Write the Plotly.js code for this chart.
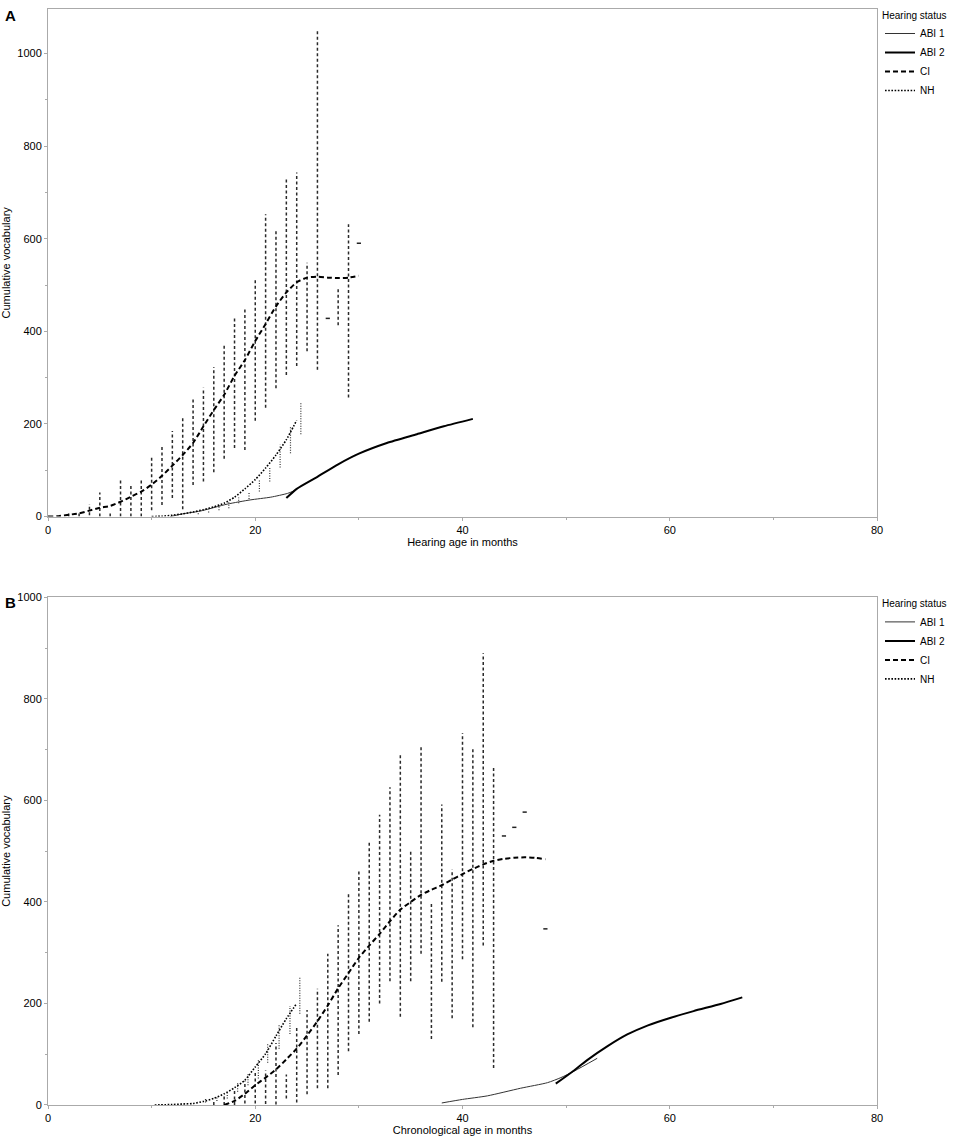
<!DOCTYPE html>
<html>
<head>
<meta charset="utf-8">
<script src="https://cdn.plot.ly/plotly-3.0.1.min.js"></script>
<style>
html,body{margin:0;padding:0;background:#fff;}
#chart{width:957px;height:1138px;}
</style>
</head>
<body>
<div id="chart"></div>
<script>
// ---------- Panel A: hearing age ----------
const aCiMonths = [2,3,4,5,6,7,8,9,10,11,12,13,14,15,16,17,18,19,20,21,22,23,24,25,26,28,29];
const aCiLow    = [0,0,3,0,0,0,0,0,14,25,40,16,68,76,96,125,148,144,207,235,277,306,325,357,317,413,257];
const aCiHigh   = [8,12,27,52,10,80,68,80,128,153,185,218,257,278,323,373,428,450,515,653,619,728,743,548,1048,495,631];
const aCiSingleMonths = [27,30];
const aCiSingleValues = [428,590];
const aCiMeanMonths = [0,1,2,3,4,5,6,7,8,9,10,11,12,13,14,15,16,17,18,19,20,21,22,23,24,25,26,27,28,29,30];
const aCiMean       = [0,1,4,7,13,19,23,32,43,54,69,88,110,133,159,195,230,263,304,338,379,416,454,484,506,516,518,516,515,516,520];
const aNhMonths = [14.5,15.5,16.5,17.45,18.4,19.4,20.4,21.4,22.4,23.4,24.4];
const aNhLow    = [5,9,14,18,29,38,54,76,106,137,178];
const aNhHigh   = [10,15,25,32,41,54,81,108,155,195,248];
const aNhMeanMonths = [10,11,12,13,14,15,16,17,18,19,20,21,22,23,24];
const aNhMean       = [0,1,3,6,10,15,21,29,42,60,80,105,133,166,208];
const aAbi1Months = [11.8,13,14.7,17.3,19.5,21.5,23.1,23.8];
const aAbi1       = [0,6,12,27,36,42,50,56];
const aAbi2Months = [23,24,26,28,30,32.7,35.6,38.2,41];
const aAbi2       = [40,60,86,113,136,159,178,195,211];

// ---------- Panel B: chronological age ----------
const bCiMonths = [16,17,18,19,20,21,22,23,24,25,26,27,28,29,30,31,32,33,34,35,36,37,38,39,40,41,42,43];
const bCiLow    = [0,0,0,3,3,2,1,13,5,21,33,33,59,106,140,164,200,244,174,244,298,130,243,171,287,153,314,73];
const bCiHigh   = [10,19,28,48,65,68,122,60,155,187,229,298,354,416,464,519,572,626,690,500,706,401,592,464,733,701,890,669];
const bCiSingleMonths = [44,45,46,48];
const bCiSingleValues = [530,547,577,347];
const bCiMeanMonths = [17,18,19,20,21,22,23,24,25,26,27,28,29,30,31,32,33,34,35,36,37,38,39,40,41,42,43,44,45,46,47,48];
const bCiMean       = [0,8,22,39,54,70,90,111,137,165,196,230,260,290,314,337,362,385,400,414,424,433,444,455,465,474,481,485,487,488,487,484];
const bNhMonths = [15.2,16.3,17.3,18.3,19.3,20.3,21.2,22.3,23.35,24.3];
const bNhLow    = [5,8,13,26,39,52,83,111,140,180];
const bNhHigh   = [12,16,26,46,62,88,120,160,195,252];
const bNhMeanMonths = [10.3,12,13,14,15,16,17,18,19,20,21,22,23,24];
const bNhMean       = [0,1,2,3,7,13,22,34,49,75,101,136,170,200];
const bAbi1Months = [38,40,42.4,45.6,48.2,49.5,50.8,53];
const bAbi1       = [4,11,18,33,44,54,67,92];
const bAbi2Months = [49,50.5,52,54,55.9,57.9,60.1,62.3,64.9,67];
const bAbi2       = [42,64,88,116,139,157,172,185,199,212];

const groupNames = ['ABI 1','ABI 2','CI','NH'];
const xTitles = ['Hearing age in months','Chronological age in months'];
const yTitle = 'Cumulative vocabulary';
const legendTitle = 'Hearing status';
const panelLabels = ['A','B'];

function rangeSegments(months, lo, hi){
  const x=[], y=[];
  months.forEach((m,i)=>{ x.push(m,m,null); y.push(lo[i],hi[i],null); });
  return {x, y};
}

function panelTraces(p, xa, ya, leg){
  const traces = [];
  const ci = rangeSegments(p.ciM, p.ciLo, p.ciHi);
  traces.push({type:'scatter', mode:'lines', x:ci.x, y:ci.y, xaxis:xa, yaxis:ya,
    line:{color:'#2a2a2a', width:1.5, dash:'3px,2.5px'}, showlegend:false, hoverinfo:'skip', legend:leg});
  traces.push({type:'scatter', mode:'markers', x:p.ciSM, y:p.ciSV, xaxis:xa, yaxis:ya,
    marker:{color:'#222', size:3, symbol:'line-ew', line:{color:'#222', width:1.5}}, showlegend:false, hoverinfo:'skip', legend:leg});
  const nh = rangeSegments(p.nhM, p.nhLo, p.nhHi);
  traces.push({type:'scatter', mode:'lines', x:nh.x, y:nh.y, xaxis:xa, yaxis:ya,
    line:{color:'#333', width:1.2, dash:'1px,1.5px'}, showlegend:false, hoverinfo:'skip', legend:leg});
  traces.push({type:'scatter', mode:'lines', name:groupNames[0], x:p.a1M, y:p.a1, xaxis:xa, yaxis:ya,
    line:{color:'#333', width:1, shape:'spline', smoothing:0.6}, legend:leg});
  traces.push({type:'scatter', mode:'lines', name:groupNames[1], x:p.a2M, y:p.a2, xaxis:xa, yaxis:ya,
    line:{color:'#000', width:2, shape:'spline', smoothing:0.6}, legend:leg});
  traces.push({type:'scatter', mode:'lines', name:groupNames[2], x:p.ciMeanM, y:p.ciMean, xaxis:xa, yaxis:ya,
    line:{color:'#000', width:2, dash:'5px,3px', shape:'spline', smoothing:0.6}, legend:leg});
  traces.push({type:'scatter', mode:'lines', name:groupNames[3], x:p.nhMeanM, y:p.nhMean, xaxis:xa, yaxis:ya,
    line:{color:'#000', width:1.6, dash:'1.6px,1.6px', shape:'spline', smoothing:0.6}, legend:leg});
  return traces;
}

const data = [].concat(
  panelTraces({ciM:aCiMonths, ciLo:aCiLow, ciHi:aCiHigh, ciSM:aCiSingleMonths, ciSV:aCiSingleValues,
    ciMeanM:aCiMeanMonths, ciMean:aCiMean, nhM:aNhMonths, nhLo:aNhLow, nhHi:aNhHigh,
    nhMeanM:aNhMeanMonths, nhMean:aNhMean, a1M:aAbi1Months, a1:aAbi1, a2M:aAbi2Months, a2:aAbi2}, 'x','y','legend'),
  panelTraces({ciM:bCiMonths, ciLo:bCiLow, ciHi:bCiHigh, ciSM:bCiSingleMonths, ciSV:bCiSingleValues,
    ciMeanM:bCiMeanMonths, ciMean:bCiMean, nhM:bNhMonths, nhLo:bNhLow, nhHi:bNhHigh,
    nhMeanM:bNhMeanMonths, nhMean:bNhMean, a1M:bAbi1Months, a1:bAbi1, a2M:bAbi2Months, a2:bAbi2}, 'x2','y2','legend2')
);

const FONT = 'Liberation Sans, Arial, Helvetica, sans-serif';
const W = 957, H = 1138, mL = 48, mR = 80, mT = 6, mB = 33;
const pw = W - mL - mR, ph = H - mT - mB;
const py = px => (H - mB - px) / ph;   // page pixel y -> paper fraction
const pxX = px => (px - mL) / pw;

function xAxis(title, anchor){
  return {range:[0,80], tickvals:[0,20,40,60,80], ticks:'outside', ticklen:3, tickcolor:'#aaa',
    minor:{dtick:10, tick0:0, ticks:'outside', ticklen:2, tickcolor:'#aaa'},
    showgrid:false, zeroline:false, showline:true, linecolor:'#aaa', linewidth:1, mirror:true,
    tickfont:{family:FONT, size:11, color:'#000'}, anchor:anchor,
    title:{text:title, font:{family:FONT, size:11, color:'#000'}, standoff:2}};
}
function yAxis(range, domain, anchor){
  return {range:range, domain:domain, dtick:200, ticks:'outside', ticklen:3, tickcolor:'#aaa',
    minor:{dtick:100, ticks:'outside', ticklen:2, tickcolor:'#aaa'},
    showgrid:false, zeroline:false, showline:true, linecolor:'#aaa', linewidth:1, mirror:true,
    tickfont:{family:FONT, size:11, color:'#000'}, anchor:anchor,
    title:{text:yTitle, font:{family:FONT, size:11, color:'#000'}, standoff:4}};
}
function legendCfg(topPx){
  return {x:pxX(880), xanchor:'left', y:py(topPx), yanchor:'top', bgcolor:'rgba(0,0,0,0)',
    font:{family:FONT, size:10, color:'#000'}, itemwidth:30, tracegroupgap:0,
    title:{text:legendTitle, font:{family:FONT, size:10, color:'#000'}}};
}

const layout = {
  width:W, height:H, margin:{l:mL, r:mR, t:mT, b:mB}, paper_bgcolor:'#fff', plot_bgcolor:'#fff',
  showlegend:true,
  xaxis: xAxis(xTitles[0], 'y'),
  yaxis: yAxis([0,1096], [py(515), 1], 'x'),
  xaxis2: xAxis(xTitles[1], 'y2'),
  yaxis2: yAxis([0,1000], [0, py(596)], 'x2'),
  legend: legendCfg(3),
  legend2: legendCfg(593),
  annotations:[
    {text:'<b>'+panelLabels[0]+'</b>', xref:'paper', yref:'paper', x:pxX(3), y:py(2), xanchor:'left', yanchor:'top',
     showarrow:false, font:{family:FONT, size:15, color:'#000'}},
    {text:'<b>'+panelLabels[1]+'</b>', xref:'paper', yref:'paper', x:pxX(3), y:py(591), xanchor:'left', yanchor:'top',
     showarrow:false, font:{family:FONT, size:15, color:'#000'}}
  ]
};

Plotly.newPlot('chart', data, layout, {displayModeBar:false, staticPlot:true});
</script>
</body>
</html>
